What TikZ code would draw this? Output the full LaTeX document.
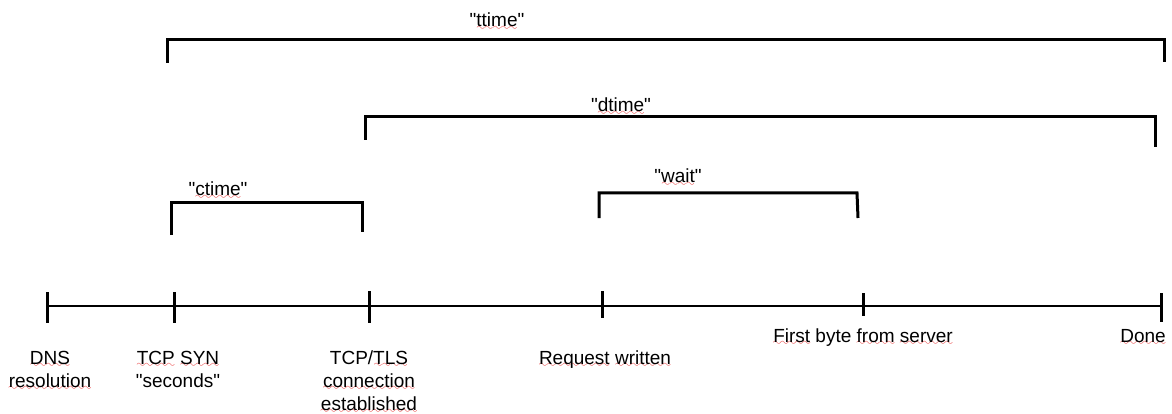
\documentclass[tikz,border=0pt]{standalone}
\usepackage{fontspec}
\setmainfont{Liberation Sans}
\definecolor{spellred}{RGB}{230,40,40}
\font\wavefont=lasy10 at 11pt
\newcommand\sq[1]{\leavevmode\setbox0=\hbox{#1}\rlap{\lower3.5pt\hbox to \wd0{\color{spellred}\xleaders\hbox{\wavefont\char58}\hfill}}\box0\relax}
\newcommand\qq{\XeTeXglyph\XeTeXcharglyph"22\relax}
\tikzset{
  brk/.style={line width=3pt, line join=miter, line cap=butt},
  axisline/.style={line width=2.6pt},
  tick/.style={line width=3pt},
  lbl/.style={font=\fontsize{19}{23}\selectfont, inner sep=0pt, anchor=base, align=center},
}
\begin{document}
\begin{tikzpicture}[x=1pt,y=-1pt]
\useasboundingbox (0,0) rectangle (1172,414);
% timeline
\coordinate (t1) at (47,306);
\coordinate (t2) at (174,306);
\coordinate (t3) at (369,306);
\coordinate (t4) at (602,306);
\coordinate (t5) at (863,306);
\coordinate (t6) at (1161,306);
\draw[axisline] (t1) -- (t6);
\draw[tick] ([yshift=14pt]t1) -- ([yshift=-17pt]t1);
\draw[tick] ([yshift=14pt]t2) -- ([yshift=-17pt]t2);
\draw[tick] ([yshift=15pt]t3) -- ([yshift=-17pt]t3);
\draw[tick] ([yshift=15pt]t4) -- ([yshift=-12pt]t4);
\draw[tick] ([yshift=13pt]t5) -- ([yshift=-10pt]t5);
\draw[tick] ([yshift=13pt]t6) -- ([yshift=-16pt]t6);
% labels under the timeline (anchor = baseline of last line)
\node[lbl] (dns) at (50,387) {\sq{DNS}\\\sq{resolution}};
\node[lbl] (syn) at (178,387) {\sq{TCP} \sq{SYN}\\\qq seconds\qq};
\node[lbl] (tls) at (369,410) {TCP/\sq{TLS}\\\sq{connection}\\\sq{established}};
\node[lbl] (req) at (605,364) {\sq{Request} \sq{written}};
\node[lbl] (fb) at (863,342) {\sq{First} byte \sq{from} \sq{server}};
\node[lbl, anchor=base east] (done) at (1166,342) {\sq{Done}};
% brackets
\coordinate (tt-l) at (167,63);
\coordinate (tt-r) at (1164,62);
\draw[brk] (tt-l) -- ++(0,-23) -| (tt-r);
\node[lbl] (ttime) at (497,27) {\qq\sq{ttime}\qq};
\coordinate (dt-l) at (365,140);
\coordinate (dt-r) at (1155,147);
\draw[brk] (dt-l) -- ++(0,-23) -| (dt-r);
\node[lbl] (dtime) at (621,112) {\qq\sq{dtime}\qq};
\coordinate (ct-l) at (171,235);
\coordinate (ct-r) at (362,232);
\draw[brk] (ct-l) -- ++(0,-32) -| (ct-r);
\node[lbl] (ctime) at (218,196) {\qq\sq{ctime}\qq};
\coordinate (wt-l) at (599,218);
\coordinate (wt-r) at (858,218);
\draw[brk] (wt-l) -- ++(0,-25) -- ++(258,0) -- (wt-r);
\node[lbl] (wait) at (678,183) {\qq\sq{wait}\qq};
\end{tikzpicture}
\end{document}
